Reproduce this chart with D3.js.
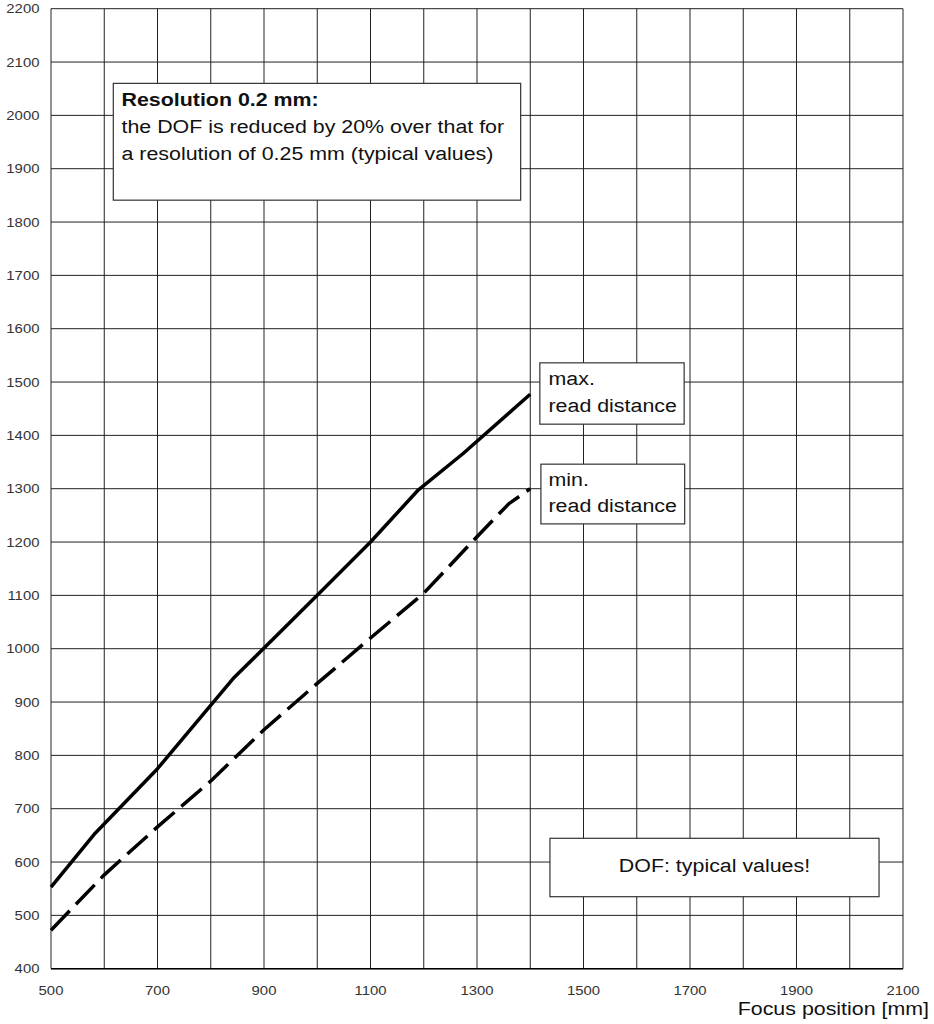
<!DOCTYPE html>
<html>
<head>
<meta charset="utf-8">
<script src="https://cdn.jsdelivr.net/npm/d3@7"></script>
<style>
  body { margin: 0; background: #fff; }
  text { font-family: "Liberation Sans", Arial, sans-serif; }
</style>
</head>
<body>
<div id="chart"></div>
<script>
// Data
const maxFocus = [500, 583, 700, 842, 1000, 1100, 1190, 1274, 1400];
const maxRead  = [553, 654, 775, 944, 1100, 1200, 1298, 1366, 1477];
const minFocus = [500, 600, 700, 800, 900, 1000, 1100, 1200, 1300, 1360, 1400];
const minRead  = [472, 576, 666, 752, 848, 935, 1020, 1104, 1210, 1272, 1300];

const xTicks = [500, 700, 900, 1100, 1300, 1500, 1700, 1900, 2100];
const xGrid = d3.range(500, 2101, 100);
const yTicks = d3.range(400, 2201, 100);

const xLabel = "Focus position [mm]";
const noteLines = ["Resolution 0.2 mm:", "the DOF is reduced by 20% over that for", "a resolution of 0.25 mm (typical values)"];
const maxLabel = ["max.", "read distance"];
const minLabel = ["min.", "read distance"];
const dofLabel = "DOF: typical values!";

// Set up dimensions
const W = 934, H = 1024;
const plot = { left: 51, right: 903, top: 8.7, bottom: 968.7 };
const sx = 1.15; // the source glyphs are a little wide

const svg = d3.select("#chart").append("svg")
    .attr("width", W)
    .attr("height", H);

// Scales
const x = d3.scaleLinear().domain([500, 2100]).range([plot.left, plot.right]);
const y = d3.scaleLinear().domain([400, 2200]).range([plot.bottom, plot.top]);

// Grid
svg.append("g").selectAll("line").data(xGrid).join("line")
    .attr("x1", d => x(d)).attr("x2", d => x(d))
    .attr("y1", plot.top).attr("y2", plot.bottom)
    .attr("stroke", "#222").attr("stroke-width", 1);

svg.append("g").selectAll("line").data(yTicks).join("line")
    .attr("x1", plot.left).attr("x2", plot.right)
    .attr("y1", d => y(d)).attr("y2", d => y(d))
    .attr("stroke", "#222").attr("stroke-width", 1);

// Border: bottom axis a little heavier
svg.append("line")
    .attr("x1", plot.left).attr("x2", plot.right)
    .attr("y1", plot.bottom).attr("y2", plot.bottom)
    .attr("stroke", "#000").attr("stroke-width", 1.6);

// Tick labels
svg.append("g").selectAll("text").data(yTicks).join("text")
    .attr("transform", d => `translate(39.5,${y(d) + 4.7}) scale(1.13,1)`)
    .attr("text-anchor", "end")
    .attr("font-size", 13.2)
    .attr("fill", "#333")
    .text(d => d);

svg.append("g").selectAll("text").data(xTicks).join("text")
    .attr("transform", d => `translate(${x(d)},994.5) scale(1.13,1)`)
    .attr("text-anchor", "middle")
    .attr("font-size", 13.2)
    .attr("fill", "#333")
    .text(d => d);

svg.append("text")
    .attr("transform", `translate(929,1015) scale(${sx},1)`)
    .attr("text-anchor", "end")
    .attr("font-size", 18.6)
    .attr("fill", "#111")
    .text(xLabel);

// Lines
const line = d3.line()
    .x(d => x(d[0]))
    .y(d => y(d[1]));

svg.append("path")
    .datum(d3.zip(maxFocus, maxRead))
    .attr("d", line)
    .attr("fill", "none")
    .attr("stroke", "#000")
    .attr("stroke-width", 3.5)
    .attr("stroke-linejoin", "round");

svg.append("path")
    .datum(d3.zip(minFocus, minRead))
    .attr("d", line)
    .attr("fill", "none")
    .attr("stroke", "#000")
    .attr("stroke-width", 3.5)
    .attr("stroke-dasharray", "27,9")
    .attr("stroke-linejoin", "round");

// Annotation boxes, placed in data units
function box(x0, x1, y0, y1) {
    svg.append("rect")
        .attr("x", x(x0)).attr("y", y(y0))
        .attr("width", x(x1) - x(x0))
        .attr("height", y(y1) - y(y0))
        .attr("fill", "#fff")
        .attr("stroke", "#333")
        .attr("stroke-width", 1.2);
}

function lines(arr, px, py, step, size, bold) {
    arr.forEach((t, i) => {
        svg.append("text")
            .attr("transform", `translate(${px},${py + i * step}) scale(${sx},1)`)
            .attr("font-size", size)
            .attr("font-weight", bold && i === 0 ? "bold" : "normal")
            .attr("fill", "#111")
            .text(t);
    });
}

box(617, 1382, 2060, 1841);
lines(noteLines, 121.5, 106, 27, 18.6, true);

box(1418, 1689, 1536, 1421);
lines(maxLabel, 548.5, 385, 26.5, 18.6, false);

box(1420, 1690, 1346, 1234);
lines(minLabel, 548.5, 485.5, 26.5, 18.6, false);

box(1437, 2055, 644.5, 535);
svg.append("text")
    .attr("transform", `translate(${x(1746)},872) scale(${sx},1)`)
    .attr("text-anchor", "middle")
    .attr("font-size", 18.6)
    .attr("fill", "#111")
    .text(dofLabel);
</script>
</body>
</html>
